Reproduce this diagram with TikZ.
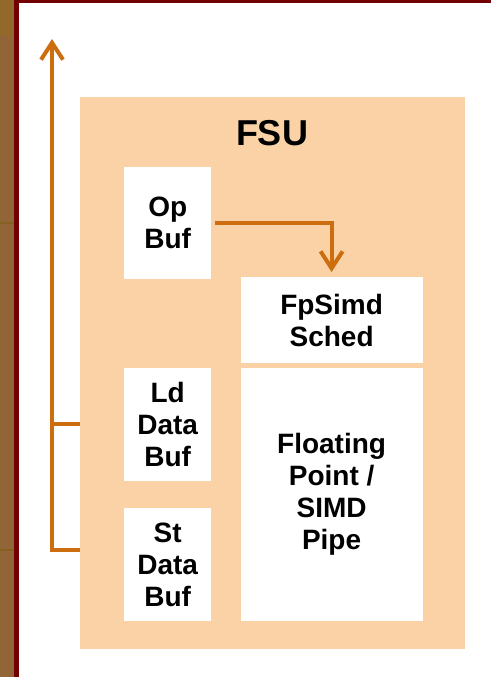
\documentclass[tikz,border=0pt]{standalone}
\usepackage{fontspec}
\setmainfont{Liberation Sans}
\usetikzlibrary{arrows.meta,positioning,calc}
\definecolor{Frame}{HTML}{720000}
\definecolor{Bark}{HTML}{926538}
\definecolor{BarkTop}{HTML}{93692B}
\definecolor{BarkLine}{HTML}{85601E}
\definecolor{Amber}{HTML}{CC6D10}
\definecolor{Peach}{HTML}{FAD2A5}
\tikzset{
  unit/.style={fill=Peach,inner sep=0pt,anchor=north west},
  blk/.style={fill=white,inner sep=0pt,align=center,font=\fontsize{28}{32}\selectfont\bfseries},
  narrow/.style={blk,minimum width=87pt,minimum height=113pt},
  wide/.style={blk,minimum width=182pt},
  title/.style={font=\fontsize{36}{40}\selectfont\bfseries},
  flow/.style={-{Straight Barb[length=17pt,width=22pt]},draw=Amber,line width=4pt},
  wire/.style={draw=Amber,line width=4pt},
}
\begin{document}
\begin{tikzpicture}[x=1pt,y=-1pt,node distance=27pt and 29pt]
        \useasboundingbox (0,0) rectangle (491,677);
        \fill[white] (0,0) rectangle (491,677);
        \fill[Bark] (0,0) rectangle (14,677);
        \fill[BarkTop] (0,0) rectangle (14,36);
        \fill[BarkLine] (0,222) rectangle (14,224);
        \fill[BarkLine] (0,549) rectangle (14,551);
        \fill[Frame] (14,0) rectangle (19,677);
        \fill[Frame] (14,0) rectangle (491,3);
        \node[unit,minimum width=385pt,minimum height=552pt] (fsu) at (80,97) {};
        \node[title] (fsulbl) at (272,133) {FSU};
        \node[narrow,minimum height=112pt,anchor=north west] (op) at (124,167) {Op\\Buf};
        \node[narrow,below=88pt of op] (ld) {Ld\\Data\\Buf};
        \node[narrow,below=of ld] (st) {St\\Data\\Buf};
        \node[wide,minimum height=253pt,right=29pt of ld.north east,anchor=north west] (pipe) {Floating\\Point /\\SIMD\\Pipe};
        \node[wide,minimum height=86pt,above=4pt of pipe] (sched) {FpSimd\\Sched};
        \coordinate (bustop) at (52,39);
        \coordinate (busbot) at (52,550);
        \draw[flow,shorten <=4pt,shorten >=5pt] (op.east) -| (sched.north);
        \draw[flow] (fsu.west |- busbot) -| (bustop);
        \draw[wire] (fsu.west |- ld) -- (bustop |- ld);
\end{tikzpicture}
\end{document}
